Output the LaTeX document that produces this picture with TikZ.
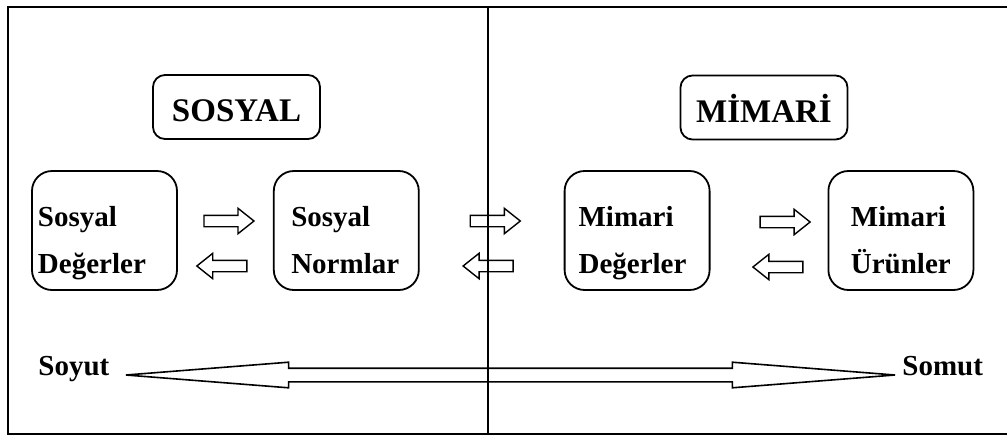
\documentclass[tikz,border=0pt]{standalone}
\usepackage{fontspec}
\setmainfont{Liberation Serif}
\usetikzlibrary{positioning,calc,shapes.arrows}
\tikzset{
  frm/.style={line width=1pt},
  blk/.style={rounded corners=10pt, draw, line width=0.9pt, align=left,
              minimum width=72.5pt, minimum height=59.5pt, inner sep=0pt,
              font=\fontsize{14.5}{23.5}\selectfont\bfseries,
              execute at begin node={\rule{0pt}{23pt}},
              execute at end node={\rule[-4pt]{0pt}{4pt}}},
  ttl/.style={rounded corners=6pt, draw, line width=0.9pt,
              minimum width=83.5pt, minimum height=32pt, inner sep=0pt,
              text height=14.5pt, text depth=0pt,
              font=\fontsize{16.5}{19}\selectfont\bfseries},
  ar/.style={single arrow, draw, line width=0.7pt, inner sep=2.5pt,
             single arrow head extend=3.5pt, single arrow tip angle=77,
             minimum height=25pt},
  arl/.style={ar, shape border rotate=180},
  big/.style={double arrow, draw, line width=0.8pt, inner sep=3pt,
              double arrow head extend=3pt, double arrow tip angle=9,
              minimum height=384.5pt},
  lbl/.style={font=\fontsize{14.5}{17}\selectfont\bfseries, inner sep=0pt},
}

\begin{document}
\begin{tikzpicture}[x=0.5pt, y=0.5pt]
  \useasboundingbox (0,0) rectangle (1007,436);
  \draw[frm] (1007,429) -- (8,429) -- (8,2) -- (1007,2);
  \draw[frm] (488,429) -- (488,2);

  \node[ttl] (sos) at (236.5,329) {SOSYAL};
  \node[ttl] (mim) at (764,328.5) {MİMARİ};

  \node[blk, text width=66.5pt] (sd) at (104.5,205.5) {Sosyal\\Değerler};
  \node[blk, text width=55pt, right=47.5pt of sd] (sn) {Sosyal\\Normlar};
  \node[blk, text width=58.5pt, right=72pt of sn] (md) {Mimari\\Değerler};
  \node[blk, text width=50pt, right=58.5pt of md] (mu) {Mimari\\Ürünler};

  \node[ar] (sdsn) at ($(sd.east)!0.5!(sn.west)+(0,9.5)$) {};
  \node[arl] (snsd) at ($(sd.east)!0.5!(sn.west)+(0,-35.5)$) {};
  \node[ar] (snmd) at ($(sn.east)!0.5!(md.west)+(0,9.5)$) {};
  \node[arl] (mdsn) at ($(sn.east)!0.5!(md.west)+(0,-35.5)$) {};
  \node[ar] (mdmu) at ($(md.east)!0.5!(mu.west)+(12.5,8.5)$) {};
  \node[arl] (mumd) at ($(md.east)!0.5!(mu.west)+(12.5,-36.5)$) {};

  \node[lbl, anchor=base west] (soyut) at (38,61) {Soyut};
  \node[lbl, anchor=base west] (somut) at (902,61) {Somut};
  \node[big, right=3pt of soyut.base east] (axis) {};
\end{tikzpicture}
\end{document}
